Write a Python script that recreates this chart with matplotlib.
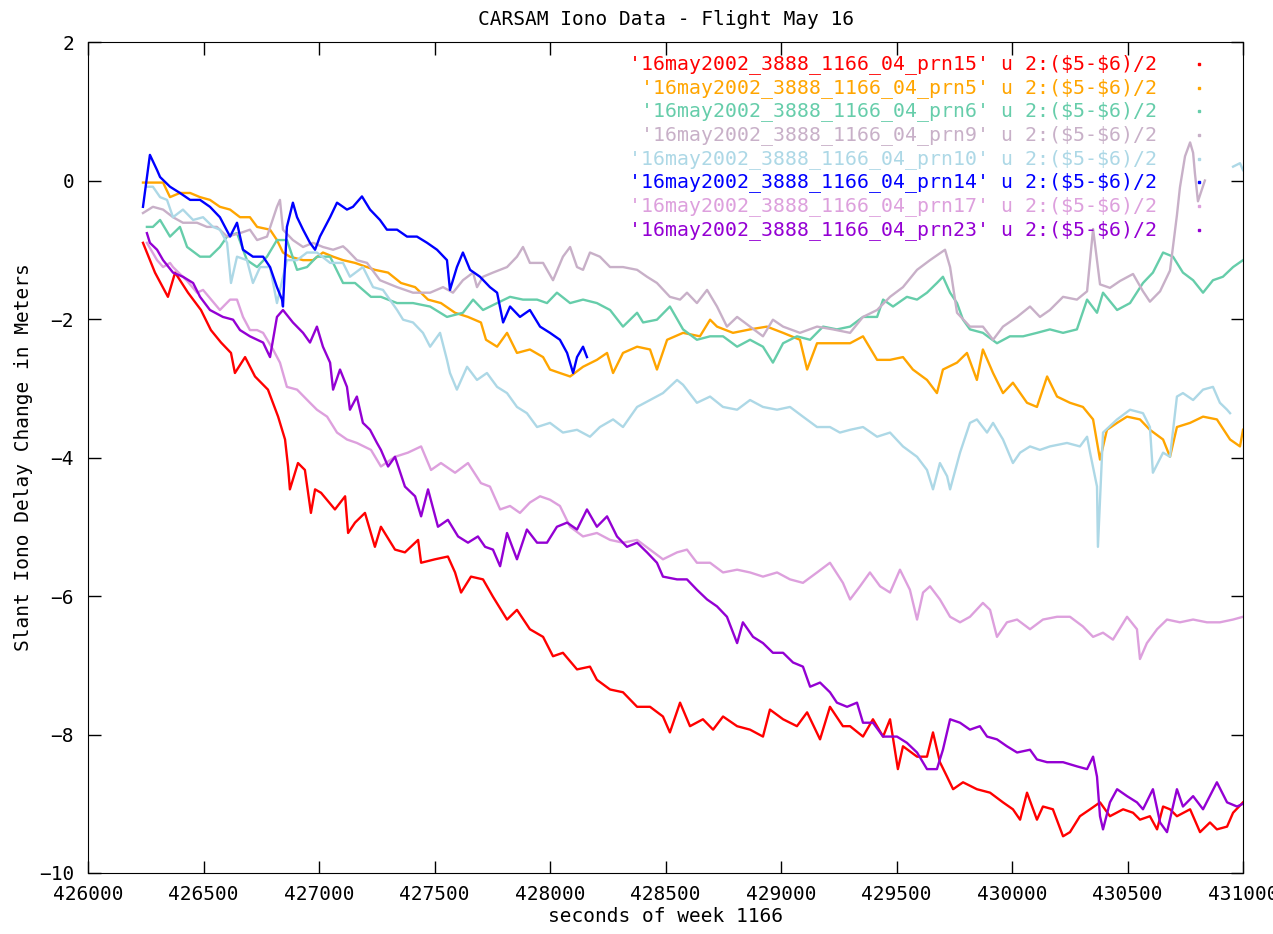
import numpy as np
import matplotlib.pyplot as plt
from matplotlib.ticker import MultipleLocator, FormatStrFormatter

plt.rcParams['font.family'] = ['DejaVu Sans Mono', 'DejaVu Sans']

# (seconds of week, slant iono delay change in m)
prn15 = [(426238,-0.90),(426290,-1.33),(426346,-1.68),(426377,-1.33),(426433,-1.62),(426489,-1.87),
         (426532,-2.16),(426576,-2.34),(426619,-2.49),(426636,-2.78),(426680,-2.55),(426723,-2.83),
         (426779,-3.02),(426823,-3.41),(426853,-3.74),(426866,-4.13),(426874,-4.46),(426909,-4.08),
         (426939,-4.18),(426965,-4.80),(426983,-4.46),(427009,-4.51),(427069,-4.75),(427113,-4.56),
         (427126,-5.09),(427156,-4.94),(427199,-4.80),(427242,-5.29),(427268,-5.00),(427329,-5.33),
         (427372,-5.37),(427429,-5.19),(427442,-5.52),(427502,-5.47),(427558,-5.43),(427589,-5.66),
         (427615,-5.95),(427658,-5.72),(427710,-5.76),(427753,-6.01),(427814,-6.34),(427857,-6.20),
         (427913,-6.48),(427970,-6.59),(428013,-6.87),(428056,-6.82),(428117,-7.06),(428173,-7.02),
         (428203,-7.21),(428260,-7.35),(428316,-7.39),(428377,-7.60),(428433,-7.60),(428489,-7.74),
         (428519,-7.97),(428563,-7.54),(428606,-7.88),(428662,-7.78),(428706,-7.93),(428749,-7.74),
         (428810,-7.88),(428866,-7.93),(428922,-8.03),(428952,-7.64),(429009,-7.78),(429069,-7.88),
         (429113,-7.68),(429169,-8.07),(429212,-7.60),(429268,-7.88),(429299,-7.88),(429355,-8.03),
         (429398,-7.78),(429442,-8.03),(429472,-7.78),(429506,-8.50),(429528,-8.17),(429589,-8.32),
         (429632,-8.32),(429658,-7.97),(429688,-8.40),(429719,-8.61),(429745,-8.79),(429788,-8.69),
         (429848,-8.79),(429905,-8.84),(429961,-8.98),(430004,-9.08),(430035,-9.23),(430065,-8.84),
         (430108,-9.23),(430134,-9.04),(430177,-9.08),(430221,-9.47),(430251,-9.41),(430294,-9.18),
         (430338,-9.08),(430381,-8.98),(430424,-9.18),(430481,-9.08),(430524,-9.13),(430554,-9.23),
         (430597,-9.18),(430628,-9.37),(430654,-9.04),(430684,-9.08),(430714,-9.18),(430771,-9.08),
         (430814,-9.41),(430857,-9.27),(430887,-9.37),(430931,-9.33),(430957,-9.13),(431000,-8.98)]

prn5 = [(426238,-0.03),(426281,-0.03),(426325,-0.03),(426355,-0.24),(426398,-0.18),(426442,-0.18),
        (426485,-0.24),(426528,-0.28),(426571,-0.38),(426615,-0.42),(426658,-0.53),(426701,-0.53),
        (426732,-0.67),(426788,-0.71),(426818,-0.86),(426844,-1.04),(426874,-1.10),(426931,-1.15),
        (426974,-1.15),(427017,-1.04),(427061,-1.10),(427104,-1.15),(427156,-1.19),(427242,-1.29),
        (427299,-1.33),(427355,-1.48),(427416,-1.54),(427472,-1.72),(427528,-1.77),(427589,-1.91),
        (427645,-1.97),(427701,-2.05),(427723,-2.30),(427771,-2.40),(427814,-2.20),(427857,-2.49),
        (427913,-2.44),(427970,-2.55),(428000,-2.73),(428043,-2.78),(428087,-2.83),(428143,-2.69),
        (428203,-2.59),(428247,-2.49),(428273,-2.78),(428316,-2.49),(428377,-2.40),(428433,-2.44),
        (428463,-2.73),(428507,-2.30),(428576,-2.20),(428649,-2.25),(428693,-2.01),(428723,-2.11),
        (428792,-2.20),(428866,-2.15),(428939,-2.11),(429009,-2.20),(429082,-2.30),(429113,-2.73),
        (429156,-2.35),(429225,-2.35),(429299,-2.35),(429355,-2.25),(429416,-2.59),(429472,-2.59),
        (429528,-2.55),(429571,-2.73),(429632,-2.88),(429675,-3.07),(429701,-2.73),(429762,-2.63),
        (429805,-2.49),(429848,-2.88),(429874,-2.44),(429918,-2.78),(429961,-3.07),(430004,-2.92),
        (430065,-3.21),(430108,-3.27),(430152,-2.83),(430195,-3.12),(430251,-3.21),(430307,-3.27),
        (430351,-3.45),(430381,-4.03),(430411,-3.60),(430455,-3.50),(430498,-3.41),(430554,-3.45),
        (430597,-3.60),(430654,-3.74),(430684,-3.99),(430714,-3.56),(430771,-3.50),(430827,-3.41),
        (430887,-3.45),(430944,-3.74),(430987,-3.84),(431000,-3.60)]

prn6 = [(426255,-0.67),(426281,-0.67),(426312,-0.57),(426355,-0.81),(426398,-0.67),(426429,-0.96),
        (426485,-1.10),(426528,-1.10),(426571,-0.96),(426602,-0.81),(426645,-0.76),(426688,-1.15),
        (426732,-1.25),(426775,-1.10),(426818,-0.86),(426861,-0.86),(426905,-1.29),(426948,-1.25),
        (426991,-1.10),(427048,-1.10),(427104,-1.48),(427156,-1.48),(427225,-1.68),(427268,-1.68),
        (427338,-1.77),(427407,-1.77),(427481,-1.82),(427554,-1.97),(427623,-1.91),(427667,-1.72),
        (427710,-1.87),(427771,-1.77),(427827,-1.68),(427883,-1.72),(427944,-1.72),(427987,-1.77),
        (428030,-1.62),(428087,-1.77),(428143,-1.72),(428203,-1.77),(428260,-1.87),(428316,-2.11),
        (428377,-1.91),(428403,-2.05),(428463,-2.01),(428519,-1.82),(428576,-2.15),(428636,-2.30),
        (428693,-2.25),(428749,-2.25),(428810,-2.40),(428866,-2.30),(428922,-2.40),(428965,-2.63),
        (429009,-2.35),(429069,-2.25),(429126,-2.30),(429182,-2.11),(429242,-2.15),(429299,-2.11),
        (429355,-1.97),(429416,-1.97),(429442,-1.72),(429485,-1.82),(429545,-1.68),(429589,-1.72),
        (429632,-1.62),(429675,-1.48),(429701,-1.39),(429732,-1.62),(429762,-1.77),(429788,-2.01),
        (429818,-2.15),(429874,-2.20),(429935,-2.35),(429991,-2.25),(430048,-2.25),(430108,-2.20),
        (430164,-2.15),(430221,-2.20),(430281,-2.15),(430325,-1.72),(430368,-1.91),(430394,-1.62),
        (430455,-1.87),(430511,-1.77),(430567,-1.48),(430610,-1.33),(430654,-1.04),(430697,-1.10),
        (430740,-1.33),(430784,-1.44),(430827,-1.62),(430870,-1.44),(430913,-1.39),(430957,-1.25),
        (431000,-1.15)]

prn9 = [(426238,-0.47),(426281,-0.38),(426325,-0.42),(426368,-0.53),(426411,-0.61),(426472,-0.61),
        (426515,-0.67),(426558,-0.67),(426602,-0.81),(426658,-0.76),(426701,-0.71),(426732,-0.86),
        (426775,-0.81),(426818,-0.38),(426831,-0.28),(426844,-0.71),(426887,-0.86),(426931,-0.96),
        (426974,-0.90),(427017,-0.96),(427061,-1.00),(427104,-0.95),(427121,-1.00),(427164,-1.15),
        (427208,-1.19),(427264,-1.44),(427338,-1.54),(427407,-1.62),(427481,-1.62),(427537,-1.54),
        (427580,-1.62),(427623,-1.44),(427667,-1.33),(427684,-1.54),(427710,-1.39),(427753,-1.33),
        (427814,-1.25),(427857,-1.10),(427883,-0.96),(427913,-1.19),(427970,-1.19),(428013,-1.44),
        (428056,-1.10),(428087,-0.96),(428117,-1.25),(428143,-1.29),(428173,-1.04),(428216,-1.10),
        (428260,-1.25),(428316,-1.25),(428377,-1.29),(428420,-1.39),(428463,-1.48),(428519,-1.68),
        (428563,-1.72),(428593,-1.62),(428636,-1.77),(428680,-1.58),(428723,-1.82),(428766,-2.11),
        (428810,-1.97),(428866,-2.11),(428922,-2.25),(428965,-2.01),(429009,-2.11),(429082,-2.20),
        (429156,-2.11),(429225,-2.15),(429299,-2.20),(429355,-1.97),(429416,-1.87),(429472,-1.68),
        (429528,-1.54),(429589,-1.29),(429645,-1.15),(429710,-1.00),(429732,-1.25),(429762,-1.91),
        (429818,-2.11),(429874,-2.11),(429918,-2.30),(429961,-2.11),(430022,-1.97),(430078,-1.82),
        (430121,-1.97),(430164,-1.87),(430221,-1.68),(430281,-1.72),(430325,-1.60),(430351,-0.70),
        (430381,-1.50),(430424,-1.55),(430468,-1.45),(430524,-1.35),(430567,-1.60),(430597,-1.75),
        (430641,-1.60),(430684,-1.30),(430714,-0.50),(430727,-0.10),(430749,0.35),(430771,0.55),
        (430784,0.40),(430792,0.10),(430805,-0.30),(430835,0.00)]

prn10 = [(426255,-0.09),(426281,-0.09),(426312,-0.24),(426342,-0.28),(426368,-0.53),(426411,-0.42),
         (426455,-0.57),(426498,-0.53),(426541,-0.67),(426571,-0.71),(426602,-0.90),(426619,-1.48),
         (426645,-1.10),(426688,-1.15),(426714,-1.48),(426745,-1.25),(426788,-1.25),(426818,-1.77),
         (426861,-1.15),(426905,-1.15),(426948,-1.04),(426991,-1.04),(427048,-1.19),(427104,-1.19),
         (427134,-1.39),(427190,-1.25),(427234,-1.54),(427277,-1.58),(427338,-1.87),(427364,-2.01),
         (427407,-2.05),(427450,-2.20),(427481,-2.40),(427524,-2.20),(427554,-2.59),(427567,-2.78),
         (427597,-3.02),(427641,-2.69),(427684,-2.88),(427727,-2.78),(427771,-2.98),(427814,-3.07),
         (427857,-3.27),(427900,-3.36),(427944,-3.56),(428000,-3.50),(428056,-3.64),(428117,-3.60),
         (428173,-3.70),(428216,-3.56),(428273,-3.45),(428316,-3.56),(428377,-3.27),(428433,-3.17),
         (428489,-3.07),(428550,-2.88),(428576,-2.95),(428636,-3.21),(428693,-3.12),(428749,-3.27),
         (428810,-3.31),(428866,-3.17),(428922,-3.27),(428983,-3.31),(429039,-3.27),(429095,-3.41),
         (429156,-3.56),(429212,-3.56),(429255,-3.64),(429299,-3.60),(429355,-3.56),(429416,-3.70),
         (429472,-3.64),(429528,-3.84),(429589,-3.99),(429632,-4.18),(429658,-4.46),(429688,-4.08),
         (429719,-4.27),(429732,-4.46),(429775,-3.93),(429818,-3.50),(429848,-3.45),(429892,-3.64),
         (429918,-3.50),(429961,-3.74),(430004,-4.08),(430035,-3.93),(430078,-3.84),(430121,-3.89),
         (430164,-3.84),(430238,-3.79),(430294,-3.84),(430325,-3.70),(430338,-3.93),(430368,-4.42),
         (430372,-5.29),(430394,-3.64),(430455,-3.45),(430511,-3.31),(430567,-3.36),(430597,-3.56),
         (430610,-4.22),(430654,-3.93),(430684,-3.99),(430714,-3.12),(430740,-3.07),(430784,-3.17),
         (430827,-3.02),(430870,-2.98),(430900,-3.21),(430931,-3.31),(430944,-3.36),
         (np.nan,np.nan),(430957,0.20),(430987,0.25),(431000,0.15)]

prn14 = [(426238,-0.38),(426268,0.37),(426299,0.15),(426312,0.05),(426355,-0.09),(426398,-0.18),
         (426442,-0.28),(426485,-0.28),(426528,-0.38),(426571,-0.53),(426615,-0.81),(426645,-0.61),
         (426671,-1.00),(426714,-1.10),(426758,-1.10),(426788,-1.25),(426818,-1.54),(426840,-1.72),
         (426844,-1.82),(426861,-0.67),(426887,-0.32),(426905,-0.53),(426931,-0.71),(426961,-0.90),
         (426983,-1.00),(427004,-0.81),(427048,-0.53),(427078,-0.32),(427104,-0.38),(427121,-0.42),
         (427147,-0.38),(427186,-0.23),(427221,-0.42),(427264,-0.57),(427294,-0.71),(427338,-0.71),
         (427381,-0.81),(427424,-0.81),(427468,-0.90),(427511,-1.00),(427554,-1.15),(427567,-1.58),
         (427597,-1.25),(427623,-1.04),(427654,-1.29),(427697,-1.39),(427740,-1.54),(427771,-1.62),
         (427797,-2.05),(427827,-1.82),(427870,-1.97),(427913,-1.87),(427957,-2.11),(428000,-2.20),
         (428043,-2.30),(428074,-2.49),(428100,-2.78),(428117,-2.55),(428143,-2.40),(428160,-2.55)]

prn17 = [(426255,-0.90),(426299,-1.15),(426325,-1.25),(426355,-1.19),(426368,-1.25),(426429,-1.45),
         (426472,-1.62),(426498,-1.58),(426571,-1.87),(426615,-1.72),(426645,-1.72),(426671,-1.97),
         (426701,-2.16),(426732,-2.16),(426758,-2.20),(426801,-2.44),(426831,-2.63),(426861,-2.98),
         (426905,-3.02),(426961,-3.21),(426991,-3.31),(427035,-3.41),(427078,-3.64),(427121,-3.74),
         (427164,-3.79),(427225,-3.89),(427268,-4.13),(427329,-3.99),(427385,-3.93),(427442,-3.84),
         (427485,-4.18),(427528,-4.08),(427589,-4.22),(427645,-4.08),(427701,-4.37),(427740,-4.42),
         (427784,-4.75),(427827,-4.70),(427870,-4.80),(427913,-4.65),(427957,-4.56),(428000,-4.61),
         (428043,-4.70),(428087,-5.00),(428143,-5.14),(428203,-5.09),(428260,-5.19),(428316,-5.23),
         (428377,-5.19),(428433,-5.33),(428489,-5.47),(428550,-5.37),(428593,-5.33),(428636,-5.52),
         (428693,-5.52),(428749,-5.66),(428810,-5.62),(428866,-5.66),(428922,-5.72),(428983,-5.66),
         (429039,-5.76),(429095,-5.81),(429156,-5.66),(429212,-5.52),(429268,-5.81),(429299,-6.05),
         (429342,-5.86),(429385,-5.66),(429429,-5.86),(429472,-5.95),(429515,-5.62),(429558,-5.91),
         (429589,-6.34),(429615,-5.95),(429645,-5.86),(429688,-6.05),(429732,-6.30),(429775,-6.38),
         (429818,-6.30),(429874,-6.10),(429905,-6.20),(429935,-6.59),(429978,-6.38),(430022,-6.34),
         (430078,-6.48),(430134,-6.34),(430195,-6.30),(430251,-6.30),(430307,-6.44),(430351,-6.59),
         (430394,-6.53),(430437,-6.63),(430498,-6.30),(430541,-6.48),(430554,-6.91),(430584,-6.68),
         (430628,-6.48),(430671,-6.34),(430727,-6.38),(430784,-6.34),(430844,-6.38),(430900,-6.38),
         (430957,-6.34),(431000,-6.30)]

prn23 = [(426255,-0.76),(426268,-0.90),(426299,-1.00),(426325,-1.15),(426368,-1.33),(426411,-1.39),
         (426455,-1.48),(426485,-1.68),(426528,-1.87),(426584,-1.97),(426628,-2.01),(426658,-2.16),
         (426701,-2.25),(426758,-2.34),(426788,-2.55),(426818,-1.97),(426844,-1.87),(426887,-2.05),
         (426931,-2.20),(426961,-2.34),(426991,-2.11),(427017,-2.40),(427048,-2.63),(427061,-3.02),
         (427091,-2.73),(427121,-2.98),(427134,-3.31),(427164,-3.12),(427190,-3.50),(427221,-3.60),
         (427251,-3.79),(427268,-3.89),(427299,-4.13),(427329,-3.99),(427372,-4.42),(427416,-4.56),
         (427442,-4.85),(427472,-4.46),(427515,-5.00),(427558,-4.90),(427602,-5.14),(427645,-5.23),
         (427688,-5.14),(427719,-5.29),(427753,-5.33),(427784,-5.57),(427814,-5.09),(427857,-5.47),
         (427900,-5.04),(427944,-5.23),(427987,-5.23),(428030,-5.00),(428074,-4.94),(428117,-5.04),
         (428160,-4.75),(428203,-5.00),(428247,-4.85),(428290,-5.14),(428333,-5.29),(428377,-5.23),
         (428420,-5.37),(428463,-5.52),(428489,-5.72),(428550,-5.76),(428593,-5.76),(428636,-5.91),
         (428680,-6.05),(428723,-6.15),(428766,-6.30),(428810,-6.68),(428835,-6.38),(428879,-6.59),
         (428922,-6.68),(428965,-6.82),(429009,-6.82),(429052,-6.96),(429095,-7.02),(429126,-7.31),
         (429169,-7.25),(429212,-7.39),(429242,-7.54),(429286,-7.60),(429329,-7.54),(429355,-7.83),
         (429398,-7.83),(429442,-8.03),(429502,-8.03),(429545,-8.12),(429589,-8.26),(429632,-8.50),
         (429675,-8.50),(429701,-8.22),(429732,-7.78),(429775,-7.83),(429818,-7.93),(429861,-7.88),
         (429892,-8.03),(429935,-8.07),(429978,-8.17),(430022,-8.26),(430078,-8.22),(430108,-8.36),
         (430152,-8.40),(430221,-8.40),(430281,-8.46),(430325,-8.50),(430351,-8.32),(430368,-8.61),
         (430381,-9.18),(430394,-9.37),(430424,-8.98),(430455,-8.79),(430498,-8.89),(430541,-8.98),
         (430567,-9.08),(430610,-8.79),(430641,-9.27),(430671,-9.41),(430714,-8.79),(430740,-9.04),
         (430784,-8.89),(430827,-9.08),(430887,-8.69),(430931,-8.98),(430974,-9.04),(431000,-9.00)]

prns = ['15', '5', '6', '9', '10', '14', '17', '23']
colors = ['#ff0000', '#ffa500', '#66cdaa', '#c8b0c8', '#add8e6', '#0000ff', '#dda0dd', '#9400d3']
datasets = [prn15, prn5, prn6, prn9, prn10, prn14, prn17, prn23]
labels = ["'16may2002_3888_1166_04_prn%s' u 2:(\\$5-\\$6)/2" % p for p in prns]

fig = plt.figure(figsize=(12.73, 9.34), dpi=100)
ax = fig.add_axes([88/1273, 61/934, 1155/1273, 831/934])

for pts, c in zip(datasets, colors):
    xy = np.array(pts, dtype=float)
    ax.plot(xy[:, 0], xy[:, 1], color=c, lw=1.7)

# gnuplot style key: right aligned text, sample point on the right
for i, (lab, c) in enumerate(zip(labels, colors)):
    yk = 0.9735 - i*0.0285
    ax.text(0.9255, yk, lab, color=c, fontsize=14.3, ha='right', va='center',
            transform=ax.transAxes)
    ax.plot([0.962], [yk], marker='s', ms=1.5, color=c, transform=ax.transAxes, clip_on=False)

ax.set_xlim(426000, 431000)
ax.set_ylim(-10, 2)
ax.xaxis.set_major_locator(MultipleLocator(500))
ax.yaxis.set_major_locator(MultipleLocator(2))
ax.xaxis.set_major_formatter(FormatStrFormatter('%d'))
ax.tick_params(direction='in', length=9, width=1, top=True, right=True, labelsize=14)
ax.tick_params(axis='x', pad=9)
ax.tick_params(axis='y', pad=10)

ax.set_title('CARSAM Iono Data - Flight May 16', fontsize=14, pad=12)
ax.set_xlabel('seconds of week 1166', fontsize=14, labelpad=2)
ax.set_ylabel('Slant Iono Delay Change in Meters', fontsize=14, labelpad=4)

fig.savefig('out.png', dpi=100)
